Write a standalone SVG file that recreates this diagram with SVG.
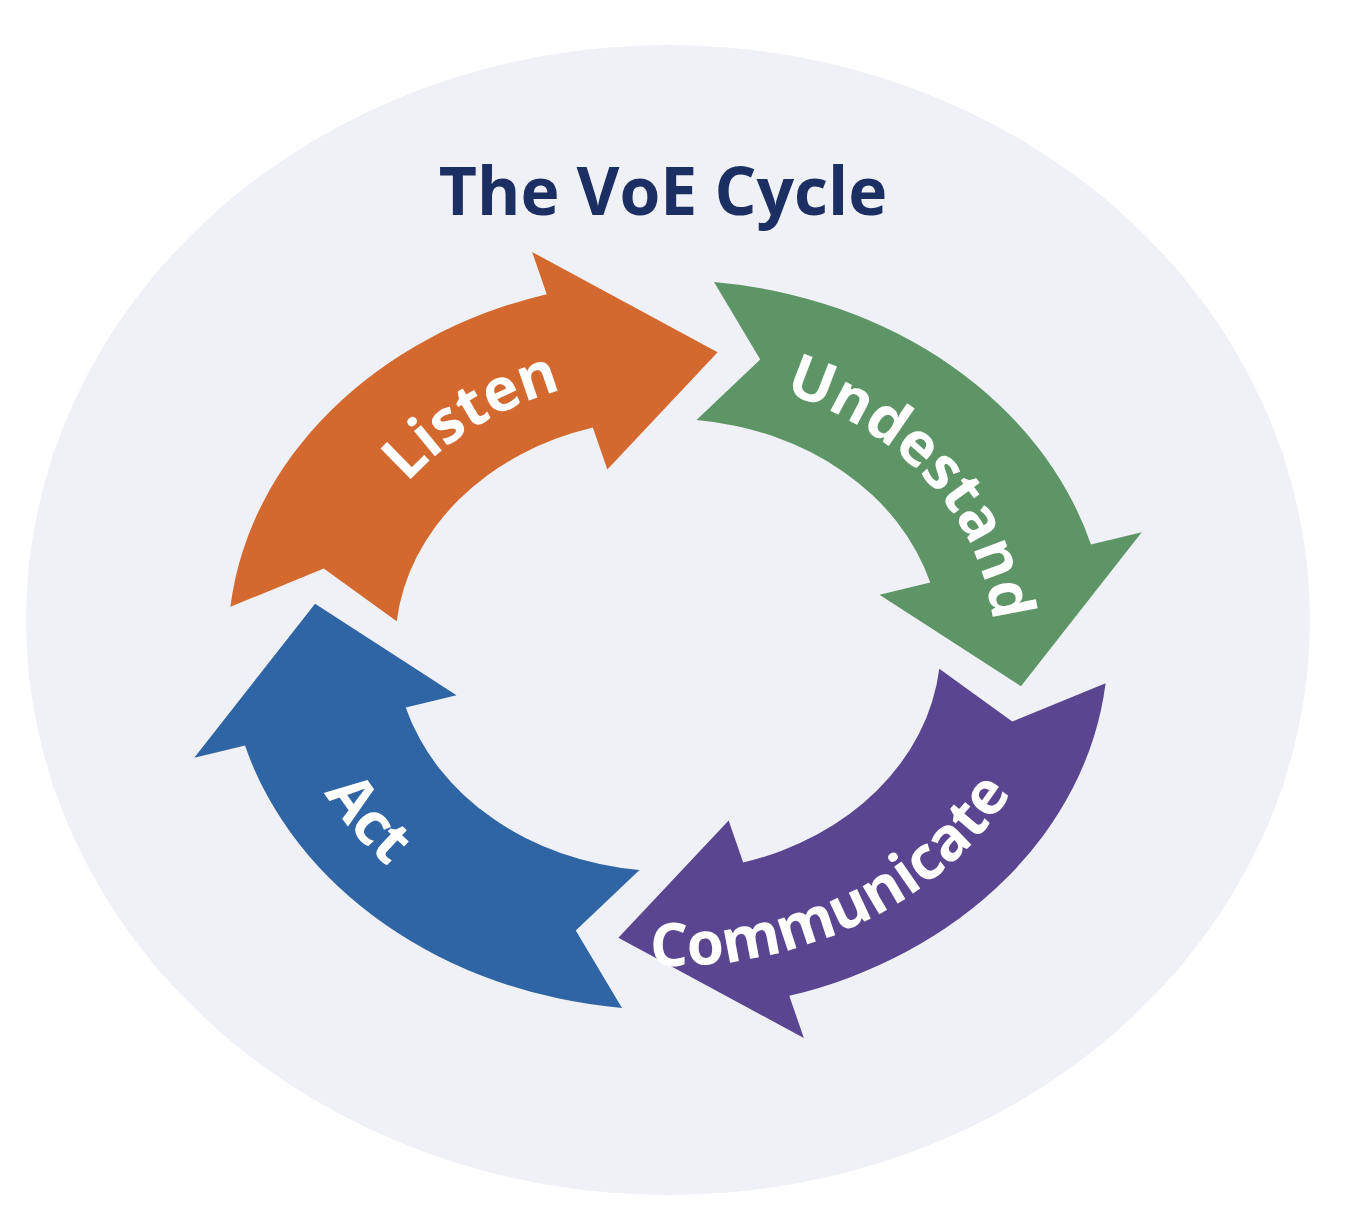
<svg xmlns="http://www.w3.org/2000/svg" width="1346" height="1224" viewBox="0 0 1346 1224">
<style>
.lbl{font-family:"Open Sans","Liberation Sans",sans-serif;font-weight:bold;font-size:60px;fill:#ffffff}
.title{font-family:"Open Sans","Liberation Sans",sans-serif;font-weight:bold;font-size:66px;fill:#1b2f63}
</style>
<defs>
<path id="arr" d="M1,0 A1,1 0 0 1 0.3746,0.9272 L0.4196,1.0385 L-0.0283,0.8095 L0.1873,0.4636 L0.2323,0.5749 A0.62,0.62 0 0 0 0.62,0 L0.8000,0.1267 Z"/>
<path id="cw" d="M342,645 A326,270 0 0 1 994,645 A326,270 0 0 1 342,645"/>
<path id="ccw" d="M281,645 A387,321 0 0 0 1055,645 A387,321 0 0 0 281,645"/>
</defs>
<rect width="1346" height="1224" fill="#ffffff"/>
<ellipse cx="668" cy="620" rx="642" ry="575" fill="#f0f1f6"/>
<text class="title" x="663" y="215" text-anchor="middle">The VoE Cycle</text>
<g id="connectors"></g>
<g id="listen">
<use href="#arr" fill="#d4692f" transform="translate(668,645) scale(440,365) rotate(186)"/>
<text class="lbl"><textPath href="#cw" startOffset="14.4%" text-anchor="middle">Listen</textPath></text>
</g>
<g id="understand">
<use href="#arr" fill="#5e9566" transform="translate(668,645) scale(440,365) rotate(276)"/>
<text class="lbl"><textPath href="#cw" startOffset="40%" text-anchor="middle">Undestand</textPath></text>
</g>
<g id="communicate">
<use href="#arr" fill="#5a4590" transform="translate(668,645) scale(440,365) rotate(6)"/>
<text class="lbl"><textPath href="#ccw" startOffset="33.6%" text-anchor="middle">Communicate</textPath></text>
</g>
<g id="act">
<use href="#arr" fill="#2f64a5" transform="translate(668,645) scale(440,365) rotate(96)"/>
<text class="lbl"><textPath href="#ccw" startOffset="9.2%" text-anchor="middle">Act</textPath></text>
</g>
</svg>
